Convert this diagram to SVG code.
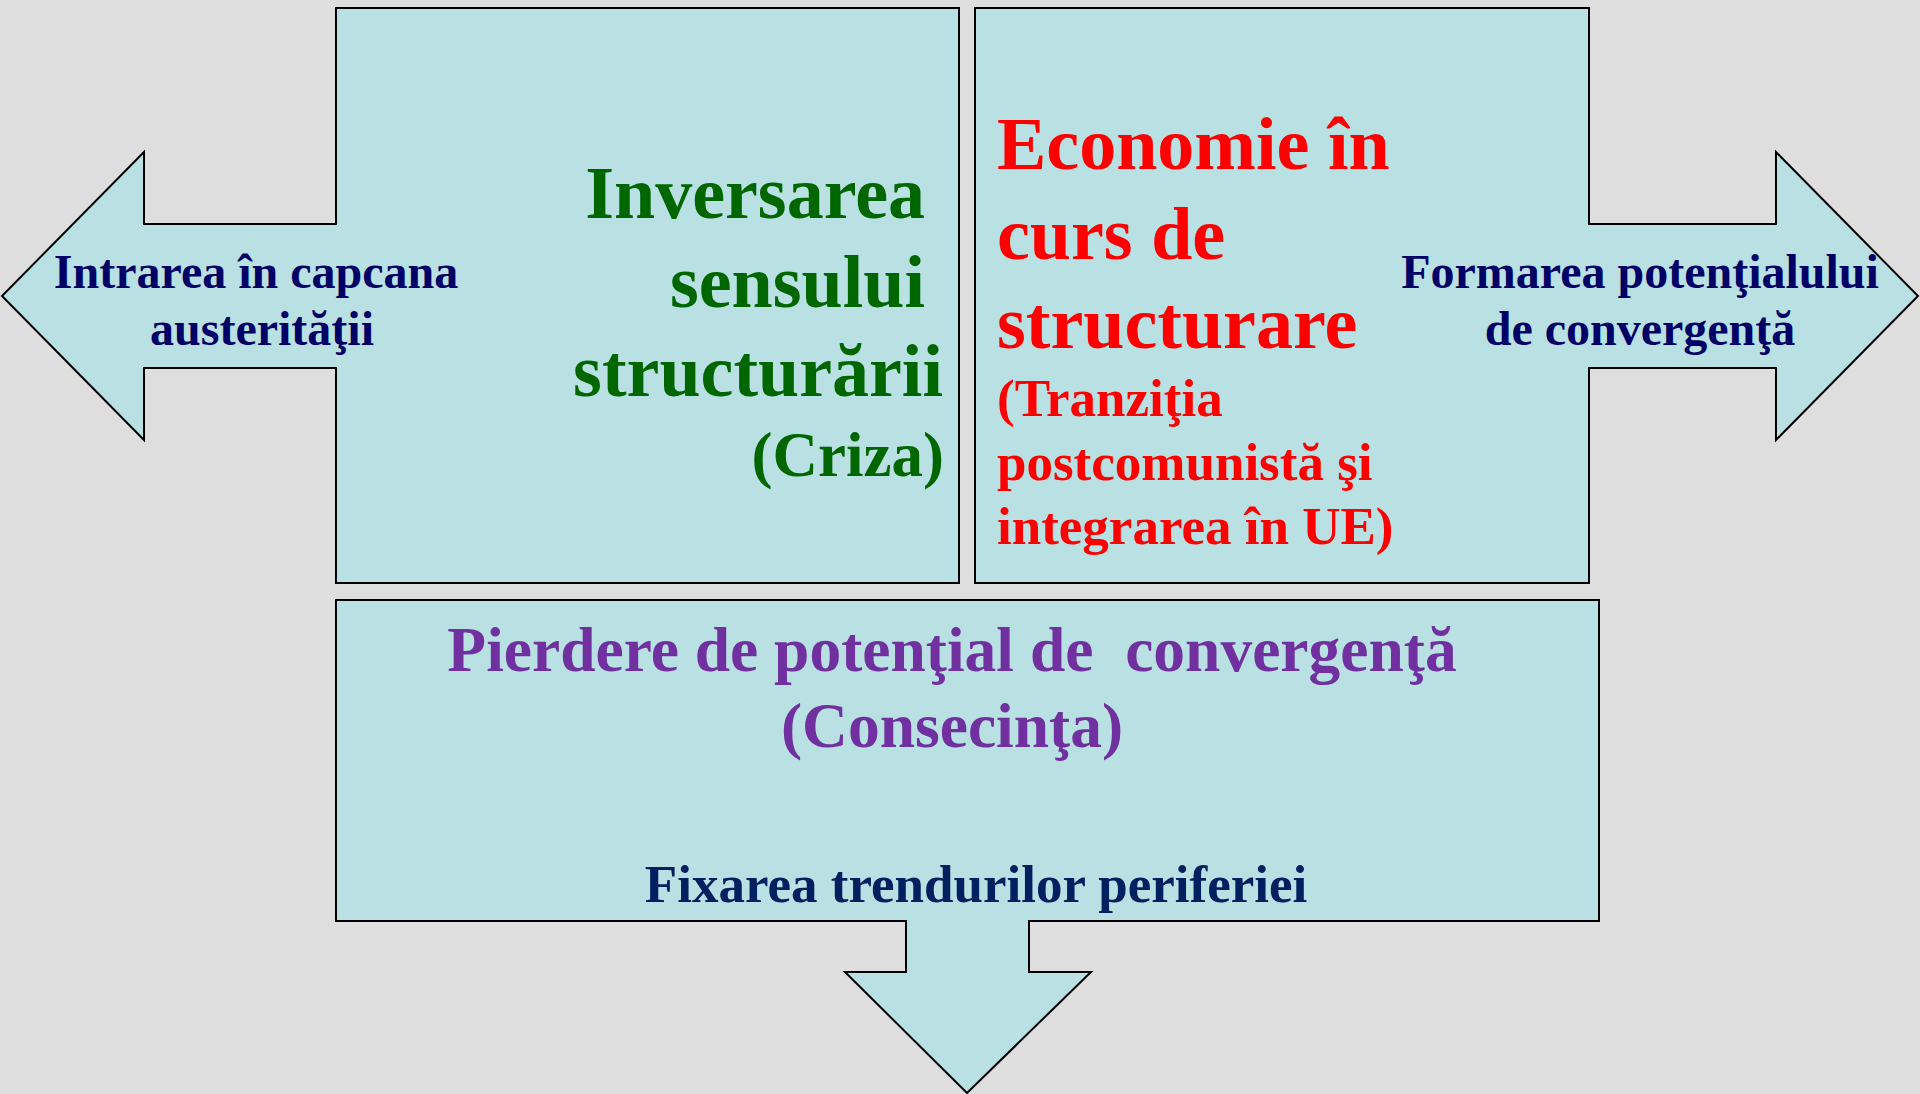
<svg xmlns="http://www.w3.org/2000/svg" width="1920" height="1094" viewBox="0 0 1920 1094">
<style>
.shape{fill:#B9E0E3;stroke:#000;stroke-width:2;stroke-linejoin:miter}
text{font-family:"Liberation Serif","Times New Roman",serif;font-weight:bold}
.g{fill:#006600;font-size:74px;text-anchor:end}
.r{fill:#FF0000}
.n{fill:#000066;font-size:48px;text-anchor:middle}
.p{fill:#7030A0;font-size:63.5px;text-anchor:middle;white-space:pre}
.f{fill:#002060;font-size:53px;text-anchor:middle}
</style>
<rect width="1920" height="1094" fill="#DEDEDE"/>
<g id="connectors"></g>
<g id="node-criza">
<path class="shape" d="M336,8 H959 V583 H336 V368 H144 V440 L2,296 L144,152 V224 H336 Z"/>
<text class="g" x="925" y="218">Inversarea</text>
<text class="g" x="925" y="307">sensului</text>
<text class="g" x="943" y="396">structurării</text>
<text class="g" x="944" y="476" style="font-size:63px">(Criza)</text>
<text class="n" x="256" y="288">Intrarea în capcana</text>
<text class="n" x="262" y="345">austerităţii</text>
</g>
<g id="node-economie">
<path class="shape" d="M975,8 H1589 V224 H1776 V152 L1918,296 L1776,440 V368 H1589 V583 H975 Z"/>
<text class="r" x="997" y="169" font-size="74">Economie în</text>
<text class="r" x="997" y="259" font-size="74">curs de</text>
<text class="r" x="997" y="348" font-size="74">structurare</text>
<text class="r" x="997" y="416" font-size="53">(Tranziţia</text>
<text class="r" x="997" y="480" font-size="53">postcomunistă şi</text>
<text class="r" x="997" y="544" font-size="53">integrarea în UE)</text>
<text class="n" x="1640" y="288">Formarea potenţialului</text>
<text class="n" x="1640" y="345">de convergenţă</text>
</g>
<g id="node-consecinta">
<path class="shape" d="M336,600 H1599 V921 H1029 V972 H1091 L967,1093 L845,972 H906 V921 H336 Z"/>
<text class="p" x="952" y="671" xml:space="preserve">Pierdere de potenţial de  convergenţă</text>
<text class="p" x="952" y="747">(Consecinţa)</text>
<text class="f" x="976" y="902">Fixarea trendurilor periferiei</text>
</g>
</svg>
